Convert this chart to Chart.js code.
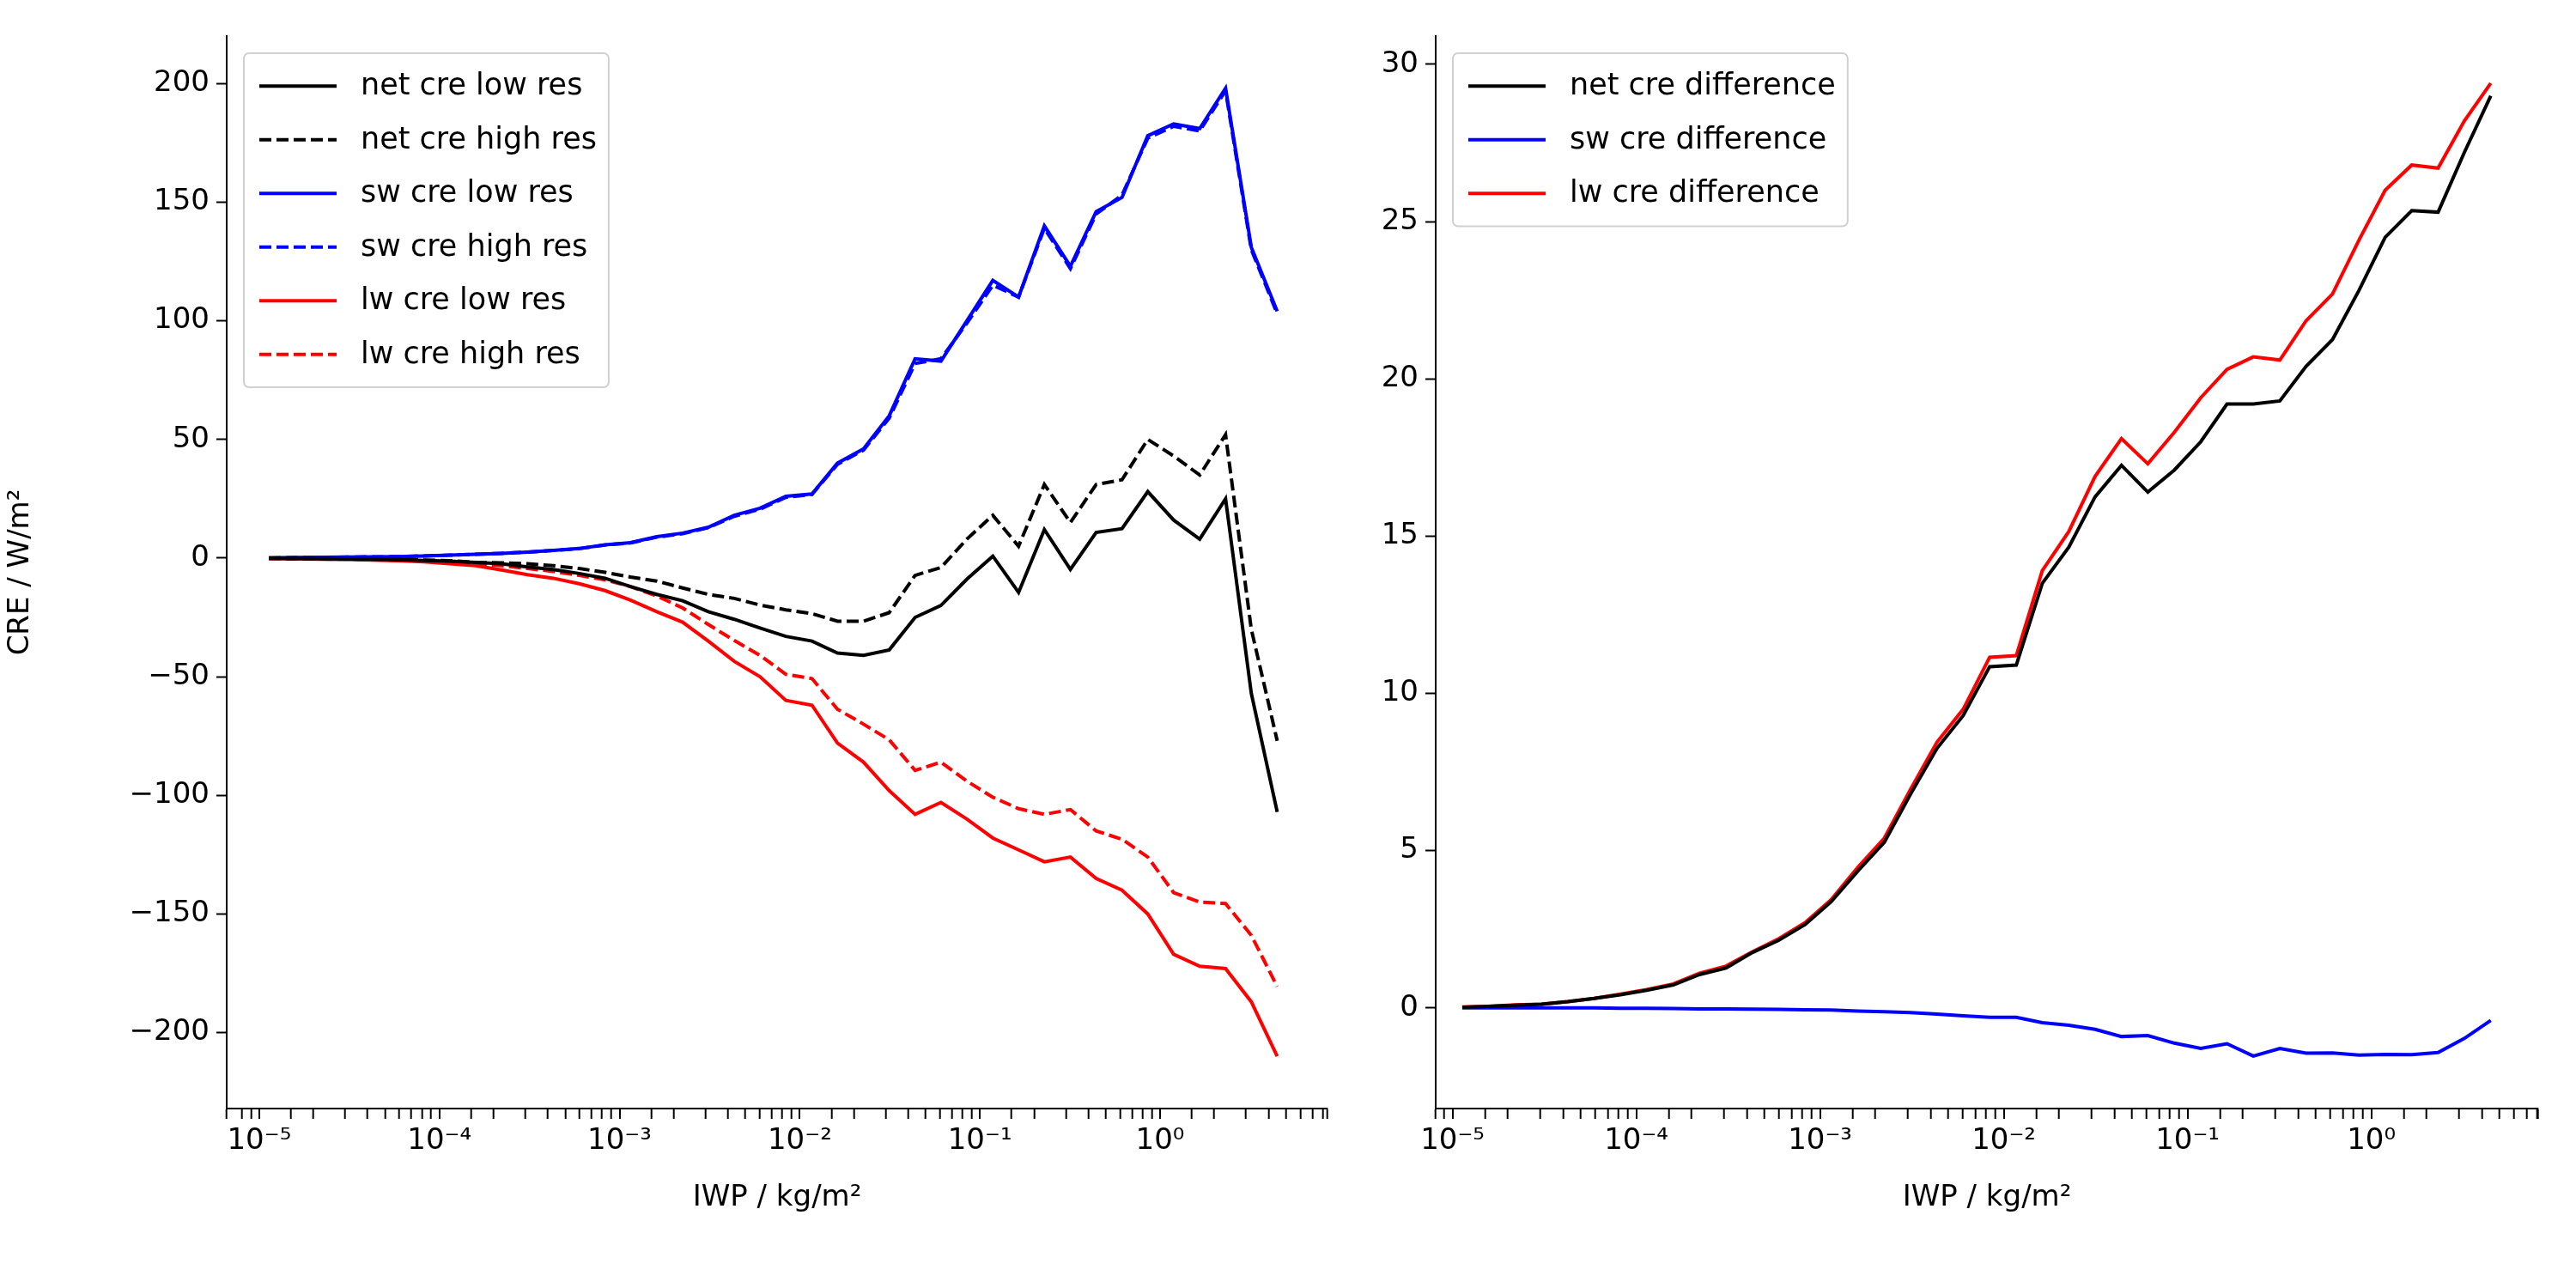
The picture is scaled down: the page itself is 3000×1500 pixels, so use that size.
<!DOCTYPE html>
<html>
<head>
<meta charset="utf-8">
<script src="https://cdn.jsdelivr.net/npm/chart.js@4"></script>
<style>
  html, body { margin: 0; padding: 0; background: #fff; }
  .box { position: absolute; top: 0; height: 1500px; }
  #left { left: 0; width: 1560px; }
  #right { left: 1560px; width: 1440px; }
</style>
</head>
<body>
<div class="box" id="left"><canvas id="creChart"></canvas></div>
<div class="box" id="right"><canvas id="diffChart"></canvas></div>
<script>
// IWP bin centres (kg/m2)
const iwp = [1.13e-5, 1.57e-5, 2.19e-5, 3.05e-5, 4.24e-5, 5.90e-5, 8.20e-5, 1.14e-4, 1.59e-4, 2.21e-4,
             3.08e-4, 4.28e-4, 5.96e-4, 8.30e-4, 1.15e-3, 1.61e-3, 2.24e-3, 3.11e-3, 4.33e-3, 6.02e-3,
             8.38e-3, 1.17e-2, 1.62e-2, 2.26e-2, 3.14e-2, 4.37e-2, 6.08e-2, 8.47e-2, 0.118, 0.164,
             0.228, 0.318, 0.442, 0.615, 0.855, 1.19, 1.66, 2.31, 3.21, 4.47];

// left panel (W/m2)
const netLow  = [-0.1, -0.2, -0.3, -0.4, -0.5, -0.7, -1, -1.3, -1.8, -2.4, -3.7, -4.8, -6.5, -8.5, -12, -15.3, -18, -22.6, -25.8, -29.5,
                 -33, -35, -40, -41, -38.7, -25, -20, -8.9, 0.8, -14.5, 12, -4.8, 10.8, 12.4, 28, 16, 8, 25, -57, -107];
const netHigh = [-0.1, -0.2, -0.3, -0.4, -0.5, -0.6, -0.8, -1.1, -1.8, -2, -2.4, -3.2, -4.4, -6, -8, -9.7, -12.6, -15.3, -17, -19.8,
                 -21.8, -23.4, -26.6, -26.6, -23, -7.3, -4, 8, 18, 5, 31, 15, 31, 33, 50, 43, 35, 52, -30, -77];
const swLow   = [0.1, 0.2, 0.3, 0.4, 0.5, 0.6, 0.9, 1.2, 1.6, 2, 2.5, 3.2, 4, 5.6, 6.5, 9, 10.5, 13, 18, 21,
                 26, 27, 40, 46, 60, 84, 83, 100, 117, 110, 140, 123, 146, 152, 178, 183, 181, 198, 131, 104];
const swHigh  = [0.1, 0.2, 0.3, 0.4, 0.5, 0.6, 0.9, 1.2, 1.6, 2, 2.5, 3.2, 4, 5.5, 6.4, 8.8, 10.3, 12.8, 17.6, 20.6,
                 25.6, 26.8, 39.5, 45.5, 59, 82, 84, 99, 115, 110, 139, 122, 145, 153, 177, 182, 180, 197, 130, 103];
const lwLow   = [-0.2, -0.3, -0.5, -0.6, -0.8, -1.1, -1.6, -2.4, -3.2, -5, -7, -8.5, -10.8, -13.7, -17.7, -22.6, -27, -35, -43.5, -50,
                 -60, -62, -78, -86, -98, -108, -103, -110, -118, -123, -128, -126, -135, -140, -150, -167, -172, -173, -187, -210];
const lwHigh  = [-0.1, -0.3, -0.4, -0.5, -0.7, -0.9, -1.3, -1.8, -2.4, -3.2, -4.4, -5.6, -7.3, -9.2, -12, -16, -21, -28, -34.7, -41,
                 -49, -50.8, -63.7, -70, -76.6, -89.5, -86, -94, -100.8, -105.6, -108, -106, -115, -118.5, -126, -141, -145, -145.6, -159, -180.6];

// right panel: high res minus low res
const netDiff = [0.02, 0.05, 0.08, 0.12, 0.2, 0.3, 0.42, 0.56, 0.73, 1.06, 1.27, 1.76, 2.15, 2.65, 3.38, 4.36, 5.27, 6.8, 8.25, 9.3,
                 10.85, 10.9, 13.5, 14.65, 16.25, 17.25, 16.4, 17.1, 18.0, 19.2, 19.2, 19.3, 20.4, 21.25, 22.8, 24.5, 25.35, 25.3, 27.2, 29.0];
const swDiff  = [0, 0, 0, 0, 0, 0, -0.01, -0.01, -0.02, -0.03, -0.03, -0.04, -0.05, -0.06, -0.07, -0.1, -0.12, -0.15, -0.2, -0.25,
                 -0.3, -0.3, -0.47, -0.55, -0.68, -0.91, -0.88, -1.12, -1.29, -1.14, -1.53, -1.29, -1.44, -1.43, -1.5, -1.48, -1.49, -1.42, -0.97, -0.4];
const lwDiff  = [0.03, 0.05, 0.1, 0.12, 0.2, 0.3, 0.44, 0.58, 0.76, 1.1, 1.33, 1.78, 2.2, 2.71, 3.44, 4.48, 5.4, 6.95, 8.45, 9.5,
                 11.15, 11.2, 13.9, 15.15, 16.9, 18.1, 17.3, 18.3, 19.4, 20.3, 20.7, 20.6, 21.85, 22.7, 24.4, 26.0, 26.8, 26.7, 28.2, 29.4];

// y tick values
const creTicks = [-200, -150, -100, -50, 0, 50, 100, 150, 200];
const diffTicks = [0, 5, 10, 15, 20, 25, 30];

const FONT = 'DejaVu Sans';
const LW = 4;
const DASH = [14, 6];
const FS = 34;
Chart.defaults.font.family = FONT;
Chart.defaults.color = '#000';

const supers = { '-': '⁻', '0': '⁰', '1': '¹', '2': '²', '3': '³', '4': '⁴', '5': '⁵', '6': '⁶', '7': '⁷', '8': '⁸', '9': '⁹' };
function powLabel(v) {
    const e = Math.log10(v);
    if (Math.abs(e - Math.round(e)) > 1e-6) return '';
    return '10' + String(Math.round(e)).split('').map(c => supers[c]).join('');
}

function series(label, values, color, dashed) {
    return {
        label: label,
        data: iwp.map((x, i) => ({ x: x, y: values[i] })),
        borderColor: color,
        backgroundColor: color,
        borderWidth: LW,
        borderDash: dashed ? DASH : [],
        pointRadius: 0,
        tension: 0
    };
}

// legend drawn inside the plot, matplotlib style
const innerLegend = {
    id: 'innerLegend',
    afterDraw(chart, args, opts) {
        const ctx = chart.ctx;
        const area = chart.chartArea;
        const sets = chart.data.datasets;
        const x0 = area.left + opts.dx, y0 = area.top + opts.dy;
        const rowH = 62.5;
        ctx.save();
        ctx.font = '35px ' + FONT;
        let textW = 0;
        sets.forEach(d => { textW = Math.max(textW, ctx.measureText(d.label).width); });
        const w = 134 + textW + 16;
        const h = rowH * sets.length + 14;
        ctx.fillStyle = 'rgba(255,255,255,0.8)';
        ctx.strokeStyle = '#d0d0d0';
        ctx.lineWidth = 2;
        ctx.beginPath();
        ctx.roundRect(x0, y0, w, h, 6);
        ctx.fill();
        ctx.stroke();
        sets.forEach((d, i) => {
            const y = y0 + 7 + rowH * (i + 0.5);
            ctx.strokeStyle = d.borderColor;
            ctx.lineWidth = LW;
            ctx.setLineDash(d.borderDash);
            ctx.beginPath();
            ctx.moveTo(x0 + 18, y);
            ctx.lineTo(x0 + 108, y);
            ctx.stroke();
            ctx.setLineDash([]);
            ctx.fillStyle = '#000';
            ctx.textBaseline = 'middle';
            ctx.fillText(d.label, x0 + 136, y + 1);
        });
        ctx.restore();
    }
};

function axes(xmin, xmax, ymin, ymax, yTicks, yTitle, yWidth) {
    const tickStyle = { drawOnChartArea: false, tickLength: 12, tickWidth: 2, color: '#000' };
    return {
        x: {
            type: 'logarithmic', min: xmin, max: xmax,
            border: { color: '#000', width: 2 },
            grid: Object.assign({}, tickStyle, {
                lineWidth: c => (powLabel(c.tick.value) ? 2 : 1.4)
            }),
            ticks: {
                autoSkip: false, maxRotation: 0, padding: 6,
                font: { size: FS },
                callback: v => powLabel(v)
            },
            title: { display: true, text: 'IWP / kg/m²', font: { size: FS }, padding: { top: 10 } },
            afterFit: s => { s.height = 129; }
        },
        y: {
            min: ymin, max: ymax,
            border: { color: '#000', width: 2 },
            grid: tickStyle,
            afterBuildTicks: s => { s.ticks = yTicks.map(v => ({ value: v })); },
            ticks: { padding: 8, font: { size: FS },
                     callback: v => String(v).replace('-', '−') },
            title: { display: !!yTitle, text: yTitle, font: { size: FS }, padding: { bottom: 14 } },
            afterFit: s => { s.width = yWidth; }
        }
    };
}

new Chart(document.getElementById('creChart'), {
    type: 'line',
    data: {
        datasets: [
            series('net cre low res', netLow, '#000000', false),
            series('net cre high res', netHigh, '#000000', true),
            series('sw cre low res', swLow, '#0000ff', false),
            series('sw cre high res', swHigh, '#0000ff', true),
            series('lw cre low res', lwLow, '#ff0000', false),
            series('lw cre high res', lwHigh, '#ff0000', true)
        ]
    },
    options: {
        responsive: true, maintainAspectRatio: false, animation: false, devicePixelRatio: 1,
        layout: { padding: { top: 42, right: 14, left: 0, bottom: 80 } },
        plugins: { legend: { display: false }, tooltip: { enabled: false },
                   innerLegend: { dx: 20, dy: 20 } },
        scales: axes(6.6e-6, 8.5, -232, 220, creTicks, 'CRE / W/m²', 264)
    },
    plugins: [innerLegend]
});

new Chart(document.getElementById('diffChart'), {
    type: 'line',
    data: {
        datasets: [
            series('net cre difference', netDiff, '#000000', false),
            series('sw cre difference', swDiff, '#0000ff', false),
            series('lw cre difference', lwDiff, '#ff0000', false)
        ]
    },
    options: {
        responsive: true, maintainAspectRatio: false, animation: false, devicePixelRatio: 1,
        layout: { padding: { top: 42, right: 44, left: 0, bottom: 80 } },
        plugins: { legend: { display: false }, tooltip: { enabled: false },
                   innerLegend: { dx: 20, dy: 20 } },
        scales: axes(8.1e-6, 8.1, -3.2, 30.9, diffTicks, '', 112)
    },
    plugins: [innerLegend]
});
</script>
</body>
</html>
